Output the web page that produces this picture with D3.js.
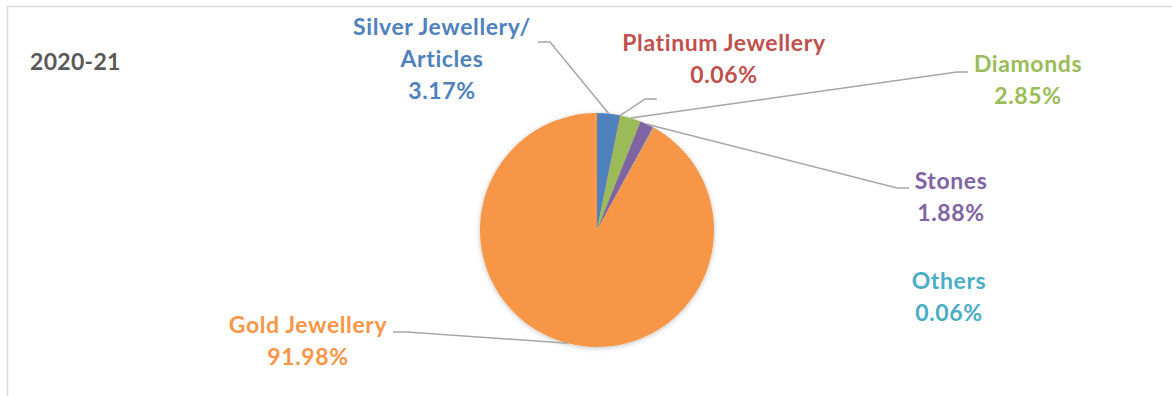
<!DOCTYPE html>
<html>
<head>
<meta charset="utf-8">
<script src="https://cdn.jsdelivr.net/npm/d3@7"></script>
<style>
  html, body { margin: 0; padding: 0; background: #fff; }
  svg { display: block; }
  text { font-family: Lato, "Open Sans", sans-serif; font-weight: 700; }
</style>
</head>
<body>
<svg id="chart" width="1172" height="396"></svg>
<script>
// ---- data ----
const title = "2020-21";
const categories = ["Silver Jewellery/ Articles", "Platinum Jewellery", "Diamonds", "Stones", "Others", "Gold Jewellery"];
const labelLines = [["Silver Jewellery/", "Articles"], ["Platinum Jewellery"], ["Diamonds"], ["Stones"], ["Others"], ["Gold Jewellery"]];
const values = [3.17, 0.06, 2.85, 1.88, 0.06, 91.98];
const colors = ["#4F81BD", "#C0504D", "#9BBB59", "#8064A2", "#4BACC6", "#F79646"];

// ---- layout ----
const W = 1172, H = 396;
const cx = 597, cy = 230, R = 117;
// label centre x, first-line baseline y, leader elbow/end points (null = no leader)
const labelLayout = [
  { x: 442, y: 35, leader: [[550, 42], [538, 42]] },
  { x: 724, y: 51, leader: [[645, 99], [657, 99]] },
  { x: 1028, y: 72, leader: [[957, 72], [968, 72]] },
  { x: 951, y: 189, leader: [[897, 188], [909, 188]] },
  { x: 949, y: 289, leader: null },
  { x: 308, y: 333, leader: [[407, 332], [393, 332]] }
];
const lineH = 32;

const svg = d3.select("#chart");

// frame
svg.append("rect")
  .attr("x", 7.5).attr("y", 6.5)
  .attr("width", W + 10).attr("height", H + 10)
  .attr("fill", "#fff").attr("stroke", "#d9d9d9").attr("stroke-width", 1.5);

svg.append("text")
  .attr("x", 30).attr("y", 70)
  .attr("fill", "#595959").attr("font-size", 23)
  .attr("letter-spacing", 0.3)
  .text(title);

const defs = svg.append("defs");
const f = defs.append("filter").attr("id", "shadow").attr("x", "-20%").attr("y", "-20%").attr("width", "140%").attr("height", "140%");
f.append("feDropShadow").attr("dx", 0).attr("dy", 1).attr("stdDeviation", 2.5).attr("flood-color", "#000").attr("flood-opacity", 0.25);

const pie = d3.pie().sort(null).value(d => d)(values);
const arc = d3.arc().innerRadius(0).outerRadius(R);

const g = svg.append("g").attr("transform", `translate(${cx},${cy})`);
g.append("g").attr("filter", "url(#shadow)")
  .selectAll("path").data(pie).join("path")
  .attr("d", arc)
  .attr("fill", (d, i) => colors[i]);

// leader lines
pie.forEach((d, i) => {
  const L = labelLayout[i];
  if (!L.leader) return;
  const a = (d.startAngle + d.endAngle) / 2;
  const p0 = [cx + R * Math.sin(a), cy - R * Math.cos(a)];
  svg.append("polyline")
    .attr("points", [p0, ...L.leader].map(p => p.join(",")).join(" "))
    .attr("fill", "none").attr("stroke", "#a6a6a6").attr("stroke-width", 1.5);
});

// labels
pie.forEach((d, i) => {
  const L = labelLayout[i];
  const lines = labelLines[i].concat([values[i].toFixed(2) + "%"]);
  const t = svg.append("text")
    .attr("text-anchor", "middle")
    .attr("fill", colors[i])
    .attr("font-size", 23)
    .attr("letter-spacing", 0.6);
  lines.forEach((s, k) => {
    t.append("tspan").attr("x", L.x).attr("y", L.y + k * lineH).text(s);
  });
});
</script>
</body>
</html>
